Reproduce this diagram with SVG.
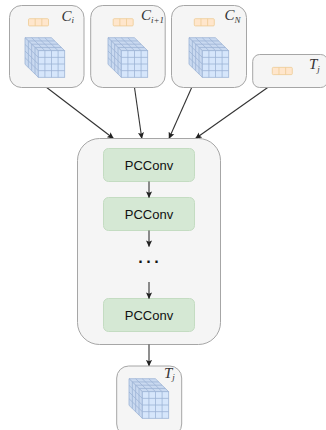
<svg xmlns="http://www.w3.org/2000/svg" width="326" height="430" viewBox="0 0 326 430">
<style>
.box{fill:#f5f5f5;stroke:#a6a6a6;stroke-width:1}
.pc{fill:#d5e8d4;stroke:#c4dcc2;stroke-width:1}
.pct{font-family:"Liberation Sans",Arial,sans-serif;font-size:13px;fill:#111;text-anchor:middle}
.m{font-family:"Liberation Serif","Times New Roman",serif;font-style:italic;font-size:15px;fill:#333}
.s{font-size:9px}
.c{stroke:#333;stroke-width:1.1;fill:none;marker-end:url(#a)}
.f{fill:#d6e6fb;stroke:#9db4d6;stroke-width:.8}
.t{fill:#c9d9f0;stroke:#9db4d6;stroke-width:.8}
.l{fill:none;stroke:#9db4d6;stroke-width:.8}
.o{fill:#ffe6cc;stroke:#eecb94;stroke-width:.8}
</style>
<defs>
<marker id="a" viewBox="0 0 8 8" refX="7" refY="4" markerWidth="7" markerHeight="7" markerUnits="userSpaceOnUse" orient="auto"><path d="M0 0.5L7.5 4L0 7.5L1.5 4Z" fill="#222"/></marker>
<g id="cube">
<path class="t" d="M0 0H26.4L13.1-13H-13.3Z"/>
<path class="t" d="M0 0V26.6L-13.3 13.6V-13Z"/>
<path class="l" d="M6.6 0L-6.7-13M13.2 0L-.1-13M19.8 0L6.5-13M-3.3-3.25H23.1M-6.65-6.5H19.75M-9.95-9.75H16.45"/>
<path class="l" d="M-3.3-3.25V23.35M-6.65-6.5V20.1M-9.95-9.75V16.85M0 6.65L-13.3-6.35M0 13.3L-13.3.3M0 19.95L-13.3 6.95"/>
<rect class="f" width="26.4" height="26.6"/>
<path class="l" d="M6.6 0V26.6M13.2 0V26.6M19.8 0V26.6M0 6.65H26.4M0 13.3H26.4M0 19.95H26.4"/>
</g>
<g id="vec">
<rect class="o" width="20" height="7.2" rx="1"/>
<path class="l" style="stroke:#eecb94" d="M6.67 0V7.2M13.33 0V7.2"/>
</g>
</defs>
<g id="connectors">
<path class="c" d="M46.7 87.5L113.5 138.5"/>
<path class="c" d="M134.5 87.5L141.8 138.5"/>
<path class="c" d="M191.7 87.5L169 138.5"/>
<path class="c" d="M267.7 87.5L195.5 138.5"/>
</g>
<g id="node-ci">
<rect class="box" x="9.5" y="5.5" width="74.5" height="82" rx="12"/>
<use href="#vec" x="28.5" y="18.7"/>
<use href="#cube" x="38.3" y="50.7"/>
<text class="m" x="61.5" y="20.5">C<tspan class="s" dy="2.5">i</tspan></text>
</g>
<g id="node-ci1">
<rect class="box" x="90.7" y="5.5" width="74.5" height="82" rx="12"/>
<use href="#vec" x="113.2" y="18.7"/>
<use href="#cube" x="121.3" y="50.7"/>
<text class="m" x="141" y="20">C<tspan class="s" dy="2.5">i+1</tspan></text>
</g>
<g id="node-cn">
<rect class="box" x="171.5" y="5.5" width="75" height="82" rx="12"/>
<use href="#vec" x="194.3" y="18.7"/>
<use href="#cube" x="202.3" y="50.7"/>
<text class="m" x="224.5" y="20">C<tspan class="s" dy="2.5">N</tspan></text>
</g>
<g id="node-tj">
<rect class="box" x="252.7" y="54.5" width="75" height="33" rx="7"/>
<use href="#vec" x="272.3" y="67.4"/>
<text class="m" x="309" y="69">T<tspan class="s" dy="2.5">j</tspan></text>
</g>
<g id="node-group">
<rect class="box" x="77.5" y="138.5" width="143" height="206" rx="22"/>
</g>
<g id="node-pc1">
<rect class="pc" x="103.5" y="148.5" width="91" height="33" rx="5"/>
<text class="pct" x="149" y="170">PCConv</text>
</g>
<g id="node-pc2">
<rect class="pc" x="103.5" y="197.5" width="91" height="33" rx="5"/>
<text class="pct" x="149" y="219">PCConv</text>
</g>
<g id="node-dots">
<text class="pct" x="150.3" y="266.5" style="font-size:16px;letter-spacing:2.7px;font-weight:bold">···</text>
</g>
<g id="node-pc3">
<rect class="pc" x="103.5" y="298.5" width="91" height="33" rx="5"/>
<text class="pct" x="149" y="320">PCConv</text>
</g>
<g id="connectors-inner">
<path class="c" d="M149 181.5V197.5"/>
<path class="c" d="M149 230.5V246.5"/>
<path class="c" d="M149 282V298.5"/>
<path class="c" d="M149 344.5V366"/>
</g>
<g id="node-out">
<rect class="box" x="116.7" y="366" width="65" height="70" rx="12"/>
<use href="#cube" x="142.3" y="391.7"/>
<text class="m" x="164" y="377.5">T<tspan class="s" dy="2.5">j</tspan></text>
</g>
</svg>
